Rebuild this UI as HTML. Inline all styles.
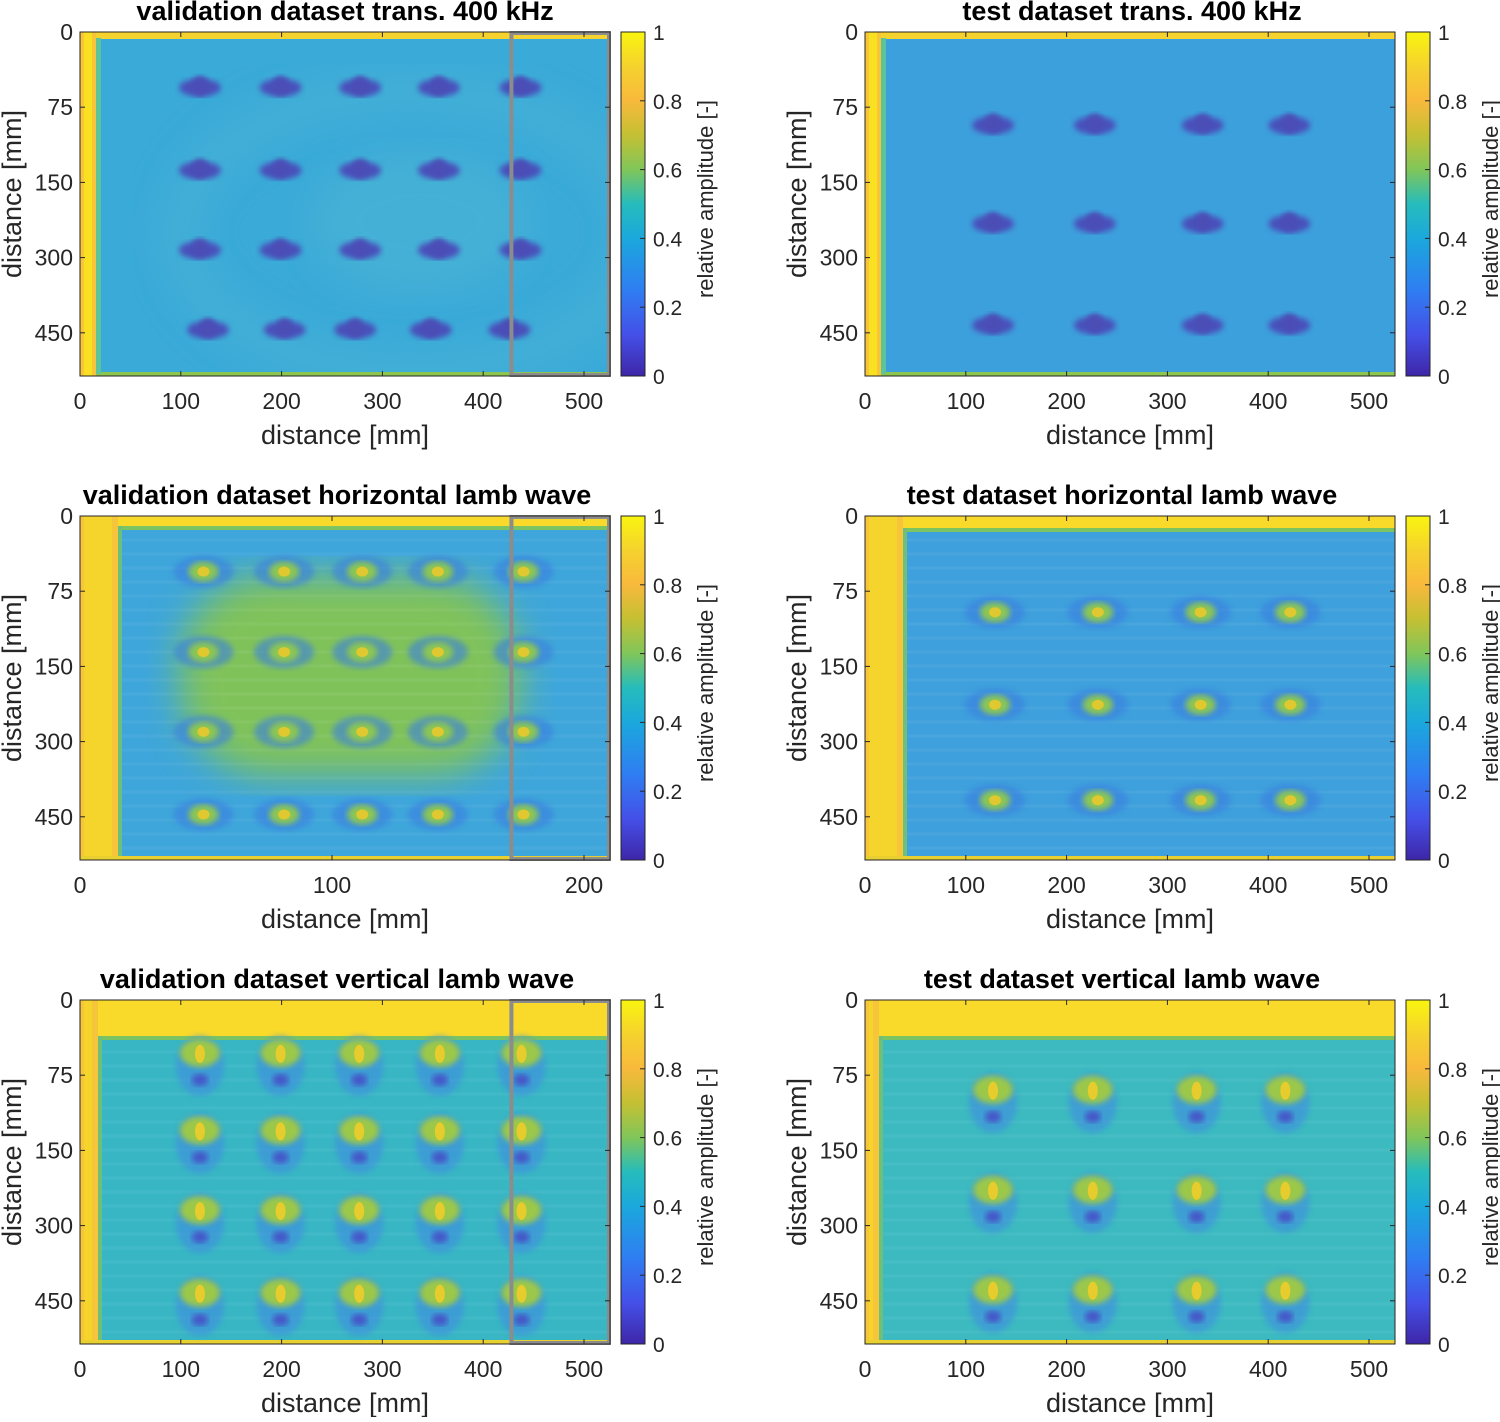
<!DOCTYPE html>
<html><head><meta charset="utf-8"><style>
body{margin:0;background:#fff;width:1500px;height:1417px;overflow:hidden}
svg text{font-family:"Liberation Sans",Arial,sans-serif;fill:#262626}
</style></head><body>
<svg id="s" width="1500" height="1417" xmlns="http://www.w3.org/2000/svg">
<defs>
<linearGradient id="parula" x1="0" y1="1" x2="0" y2="0">
<stop offset="0" stop-color="#3e26a8"/><stop offset="0.12" stop-color="#4450e8"/><stop offset="0.25" stop-color="#2f7ef2"/><stop offset="0.4" stop-color="#1ba8dc"/><stop offset="0.5" stop-color="#26bcbc"/><stop offset="0.6" stop-color="#80c65a"/><stop offset="0.7" stop-color="#c4c033"/><stop offset="0.8" stop-color="#f8b93c"/><stop offset="0.9" stop-color="#f5d22e"/><stop offset="1" stop-color="#f9f50f"/>
</linearGradient>
<filter id="bl"><feGaussianBlur stdDeviation="3"/></filter>
<filter id="bl2"><feGaussianBlur stdDeviation="18"/></filter>
</defs>
</svg>
<script>
// data
const xTicksMM=[0,100,200,300,400,500];
const xTicksMid=[0,100,200];
const yTickLabels=["0","75","150","300","450"];
const cbTicks=[0,0.2,0.4,0.6,0.8,1];
const tlDefX=[[119,199,278,356,437],[119,199,278,356,437],[119,199,278,356,437],[127,203,273,348,426]];
const tlDefY=[0.74,1.84,2.9,3.96];
const trDefX=[127,228,335,421];
const trDefY=[1.24,2.55,3.9];
const mlDefX=[49,81,112,142,176];
const mlDefY=[0.74,1.81,2.87,3.97];
const mrDefX=[129,231,333,422];
const mrDefY=[1.28,2.51,3.78];
const blDefX=[119,199,277,357,438];
const blDefY=[0.77,1.8,2.86,3.96];
const brDefX=[127,226,329,417];
const brDefY=[1.26,2.59,3.92];

const S=document.getElementById('s');const NS='http://www.w3.org/2000/svg';
function mk(t,a,p){const e=document.createElementNS(NS,t);for(const k in a)e.setAttribute(k,a[k]);(p||S).appendChild(e);return e;}
function txt(p,x,y,s,o){const e=mk('text',Object.assign({x:x,y:y},o||{}),p);e.textContent=s;return e;}

function panel(cfg){
  const g=mk('g',{});
  
  
  const L=cfg.x0,T=cfg.y0,W=530,H=344;
  const sx=v=>L+v*cfg.ppx, sy=v=>T+v*75.2;
  const clip=mk('clipPath',{id:'c'+cfg.name},S.querySelector('defs'));mk('rect',{x:L,y:T,width:W,height:H},clip);
  const img=mk('g',{'clip-path':'url(#c'+cfg.name+')'},g);
  
  
  cfg.bg(img,L,T,W,H);
  cfg.defY.forEach((yv,i)=>{
    const xs=Array.isArray(cfg.defX[0])?cfg.defX[i]:cfg.defX;
    xs.forEach(xv=>{
      const cx=sx(xv),cy=sy(yv);
      const d=mk('g',{},img);
      
      
      cfg.def(d,cx,cy);
    });
  });
  if(cfg.box){const r=mk('rect',{x:L+428*1.008,y:T+1,width:W-428*1.008-1,height:H-2,fill:'none',stroke:'#8c8c8c','stroke-width':4},g);}
  mk('rect',{x:L,y:T,width:W,height:H,fill:'none',stroke:'#262626','stroke-width':1},g);
  cfg.xt.forEach(v=>{const x=sx(v);mk('line',{x1:x,y1:T,x2:x,y2:T+5,stroke:'#262626'},g);mk('line',{x1:x,y1:T+H,x2:x,y2:T+H-5,stroke:'#262626'},g);
    const t=txt(g,x,T+H+33,String(v),{'font-size':23,'text-anchor':'middle'});});
  yTickLabels.forEach((s,i)=>{const y=sy(i);mk('line',{x1:L,y1:y,x2:L+5,y2:y,stroke:'#262626'},g);mk('line',{x1:L+W,y1:y,x2:L+W-5,y2:y,stroke:'#262626'},g);
    const t=txt(g,L-7,y+8,s,{'font-size':23,'text-anchor':'end'});});
  const xl=txt(g,L+W/2,T+H+68,'distance [mm]',{'font-size':27,'text-anchor':'middle'});
  const yl=txt(g,0,0,'distance [mm]',{'font-size':27,'text-anchor':'middle',transform:'translate('+(L-59)+','+(T+H/2-10)+') rotate(-90)'});
  const ti=txt(g,L+cfg.tdx,T-12,cfg.title,{'font-size':27,'font-weight':'bold','text-anchor':'middle',style:'fill:#000'});
  const cb=mk('g',{},g);
  const cx=L+541;mk('rect',{x:cx,y:T,width:24,height:H,fill:'url(#parula)',stroke:'#262626'},cb);
  cbTicks.forEach(v=>{const y=T+H-v*H;mk('line',{x1:cx+24,y1:y,x2:cx+19,y2:y,stroke:'#262626'},cb);const t=txt(cb,cx+32,y+8,String(v),{'font-size':21});});
  const cl=txt(cb,0,0,'relative amplitude [-]',{'font-size':22,'text-anchor':'middle',transform:'translate('+(cx+92)+','+(T+H/2-5)+') rotate(-90)'});
}
function transBg(c1,c2,strip){return (g,L,T,W,H)=>{mk('rect',{x:L,y:T,width:W,height:H,fill:c1},g);
  if(c2){mk('ellipse',{cx:L+330,cy:T+200,rx:230,ry:140,fill:'none',stroke:c2,'stroke-width':30,filter:'url(#bl2)'},g);mk('ellipse',{cx:L+340,cy:T+190,rx:110,ry:70,fill:c2,filter:'url(#bl2)'},g);}
  mk('rect',{x:L,y:T,width:W,height:7,fill:'#f5d22e'},g);mk('rect',{x:L,y:T+H-4,width:W,height:4,fill:'#8cc64f'},g);
  mk('rect',{x:L,y:T,width:strip,height:H,fill:'#f7c43a'},g);mk('rect',{x:L+4,y:T,width:strip-8,height:H,fill:'#f9e020'},g);mk('rect',{x:L+strip,y:T+6,width:5,height:H-8,fill:'#5cc49a'},g);};}
function transDef(g,cx,cy){mk('ellipse',{cx:cx,cy:cy,rx:21,ry:9,fill:'#4a4fba',filter:'url(#bl)'},g);mk('ellipse',{cx:cx,cy:cy-2,rx:8,ry:10,fill:'#4b4db5',filter:'url(#bl)'},g);}
function lambDef(g,cx,cy,vert){
  if(vert){mk('ellipse',{cx:cx,cy:cy+8,rx:24,ry:30,fill:'#3f8ce0',opacity:0.6,filter:'url(#bl)'},g);mk('ellipse',{cx:cx,cy:cy-5,rx:20,ry:14,fill:'#9cc84a',filter:'url(#bl)'},g);mk('ellipse',{cx:cx,cy:cy-4,rx:5,ry:9,fill:'#e6cc2c'},g);mk('ellipse',{cx:cx,cy:cy+22,rx:8,ry:6,fill:'#4456c8',filter:'url(#bl)'},g);}
  else{mk('ellipse',{cx:cx,cy:cy,rx:30,ry:16,fill:'#3a7fe0',opacity:0.6,filter:'url(#bl)'},g);mk('ellipse',{cx:cx,cy:cy,rx:15,ry:10,fill:'#8cc652',filter:'url(#bl)'},g);mk('ellipse',{cx:cx,cy:cy,rx:6,ry:5,fill:'#e0c830'},g);}
}
function lambBg(c,top,left,center){return (g,L,T,W,H)=>{mk('rect',{x:L,y:T,width:W,height:H,fill:c},g);
  if(center)mk('rect',{x:L+100,y:T+60,width:340,height:200,rx:90,fill:'#80c25a',filter:'url(#bl2)'},g);
  for(let y=T+10;y<T+H;y+=14)mk('line',{x1:L,y1:y,x2:L+W,y2:y,stroke:'#ffffff',opacity:0.05,'stroke-width':3},g);
  mk('rect',{x:L,y:T,width:W,height:top,fill:'#f9d92a'},g);mk('rect',{x:L,y:T+top,width:W,height:4,fill:'#7cc462'},g);
  mk('rect',{x:L,y:T,width:left,height:H,fill:'#f7c53a'},g);mk('rect',{x:L+4,y:T,width:left-10,height:H,fill:'#f5d42c'},g);mk('rect',{x:L+left,y:T+top,width:4,height:H,fill:'#6cc07a'},g);
  mk('rect',{x:L,y:T+H-4,width:W,height:4,fill:'#e8d030'},g);};}

panel({name:'panel-validation-trans',x0:80,y0:32,ppx:1.008,xt:xTicksMM,title:'validation dataset trans. 400 kHz',tdx:265,defX:tlDefX,defY:tlDefY,bg:transBg('#3aaad8','#45b0d6',16),def:transDef,box:true});
panel({name:'panel-test-trans',x0:865,y0:32,ppx:1.008,xt:xTicksMM,title:'test dataset trans. 400 kHz',tdx:267,defX:trDefX,defY:trDefY,bg:transBg('#3ca0dc',null,16),def:transDef});
panel({name:'panel-validation-horizontal',x0:80,y0:516,ppx:2.52,xt:xTicksMid,title:'validation dataset horizontal lamb wave',tdx:257,defX:mlDefX,defY:mlDefY,bg:lambBg('#3ea6da',10,38,true),def:(g,x,y)=>lambDef(g,x,y,false),box:true});
panel({name:'panel-test-horizontal',x0:865,y0:516,ppx:1.008,xt:xTicksMM,title:'test dataset horizontal lamb wave',tdx:257,defX:mrDefX,defY:mrDefY,bg:lambBg('#3ea0dc',12,38,false),def:(g,x,y)=>lambDef(g,x,y,false)});
panel({name:'panel-validation-vertical',x0:80,y0:1000,ppx:1.008,xt:xTicksMM,title:'validation dataset vertical lamb wave',tdx:257,defX:blDefX,defY:blDefY,bg:lambBg('#38b6c4',36,18,false),def:(g,x,y)=>lambDef(g,x,y,true),box:true});
panel({name:'panel-test-vertical',x0:865,y0:1000,ppx:1.008,xt:xTicksMM,title:'test dataset vertical lamb wave',tdx:257,defX:brDefX,defY:brDefY,bg:lambBg('#3cbac0',36,14,false),def:(g,x,y)=>lambDef(g,x,y,true)});
</script>
</body></html>
